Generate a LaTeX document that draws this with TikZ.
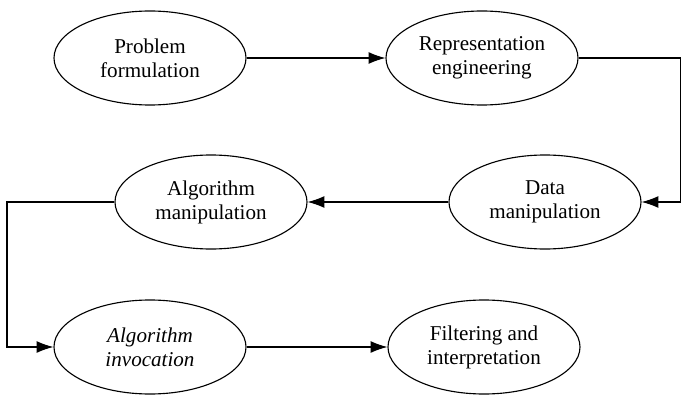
\documentclass[tikz,border=0pt]{standalone}
\usepackage{fontspec}
\setmainfont{Liberation Serif}
\usetikzlibrary{shapes.geometric,arrows.meta}

\tikzset{
  stage/.style={draw, thick, ellipse, inner sep=0pt, minimum width=4.8cm,
    minimum height=2.35cm, align=center, font=\fontsize{15}{17}\selectfont},
  flow/.style={thick, -{Latex[length=12pt, width=8.5pt]}}
}

\begin{document}
\begin{tikzpicture}
  \useasboundingbox (0, 0) rectangle (17.05, 9.95);

  % Top row
  \node[stage] (problem) at (3.75, 8.5) {Problem\\formulation};
  \node[stage] (repr) at (12.05, 8.5) {Representation\\engineering};

  % Middle row
  \node[stage] (algmanip) at (5.275, 4.9) {Algorithm\\manipulation};
  \node[stage] (datamanip) at (13.625, 4.9) {Data\\manipulation};

  % Bottom row
  \node[stage] (alginv) at (3.75, 1.275) {\textit{Algorithm}\\\textit{invocation}};
  \node[stage] (filter) at (12.1, 1.275) {Filtering and\\interpretation};

  % Corner points of the return lines
  \coordinate (rightturn) at (17.02, 8.5);
  \coordinate (leftturn) at (0.175, 4.9);

  % Connectors
  \draw[flow] (problem) -- (repr);
  \draw[flow] (repr.east) -- (rightturn) |- (datamanip.east);
  \draw[flow] (datamanip) -- (algmanip);
  \draw[flow] (algmanip.west) -- (leftturn) |- (alginv.west);
  \draw[flow] (alginv) -- (filter);
\end{tikzpicture}
\end{document}
